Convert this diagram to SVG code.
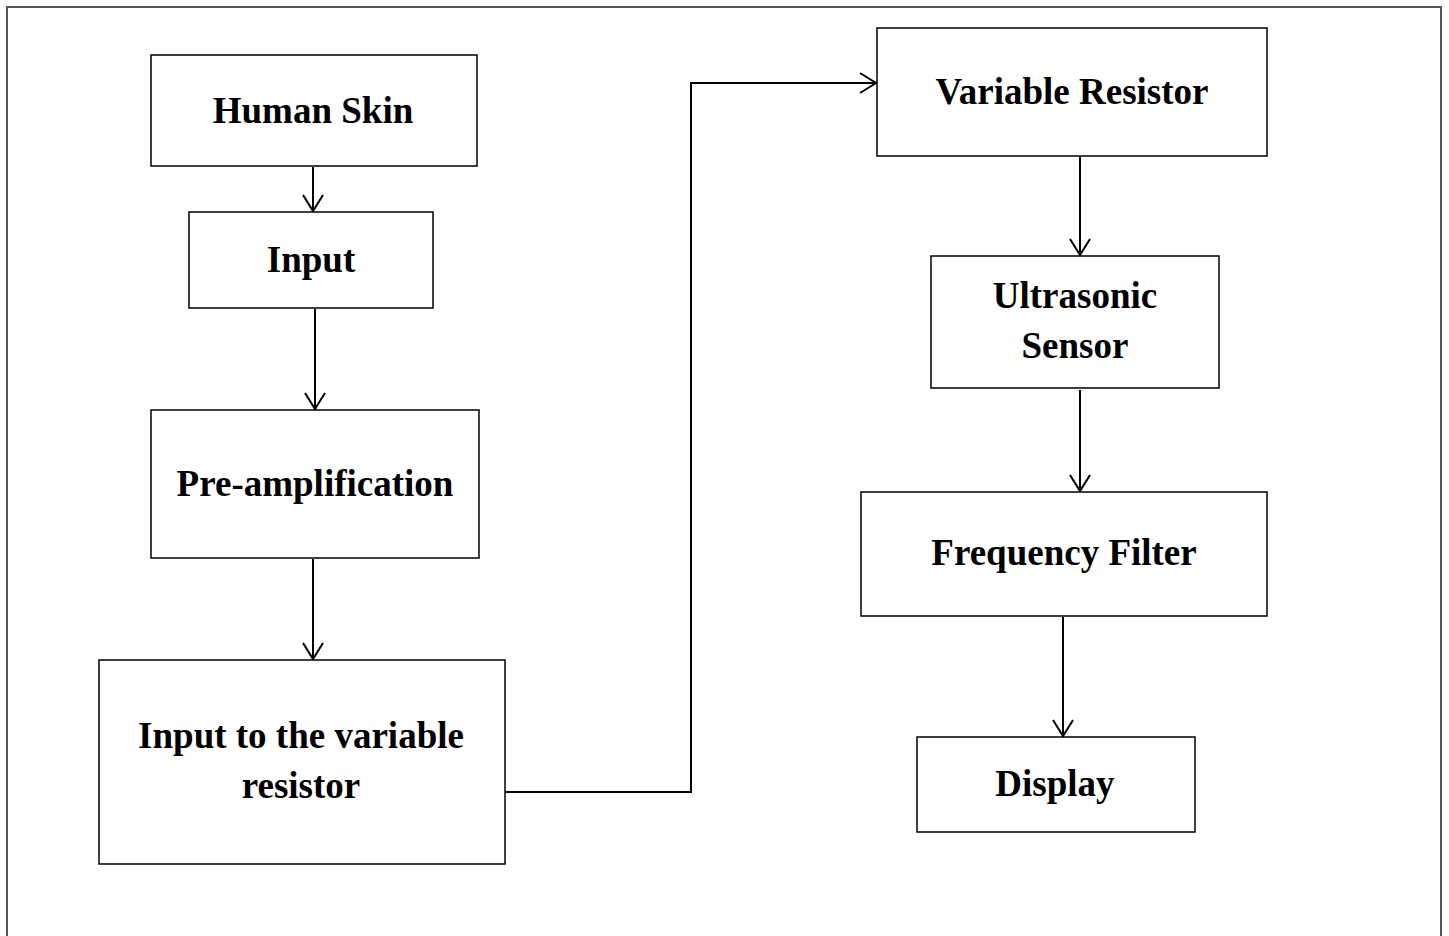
<svg xmlns="http://www.w3.org/2000/svg" width="1449" height="936" viewBox="0 0 1449 936">
<style>
.box{fill:#fff;stroke:#000;stroke-width:1.5}
.t{font-family:"Liberation Serif","Times New Roman",serif;font-weight:bold;font-size:37px;text-anchor:middle;fill:#000}
.c{fill:none;stroke:#000;stroke-width:2}
</style>
<defs>
<marker id="ah" markerWidth="22" markerHeight="22" refX="17" refY="11" orient="auto" markerUnits="userSpaceOnUse">
<path d="M1,1 L17,11 L1,21" fill="none" stroke="#000" stroke-width="2"/>
</marker>
</defs>
<rect width="1449" height="936" fill="#fff"/>
<rect x="7" y="7" width="1434" height="940" fill="none" stroke="#555" stroke-width="2"/>
<g id="n-human-skin"><rect class="box" x="151" y="55" width="326" height="111" stroke-width="2"/><text class="t" x="313" y="123">Human Skin</text></g>
<g id="n-input"><rect class="box" x="189" y="212" width="244" height="96"/><text class="t" x="311" y="272">Input</text></g>
<g id="n-preamp"><rect class="box" x="151" y="410" width="328" height="148"/><text class="t" x="315" y="496">Pre-amplification</text></g>
<g id="n-input-var"><rect class="box" x="99" y="660" width="406" height="204"/><text class="t" x="301" y="748">Input to the variable</text><text class="t" x="301" y="798">resistor</text></g>
<g id="n-var-res"><rect class="box" x="877" y="28" width="390" height="128"/><text class="t" x="1072" y="104">Variable Resistor</text></g>
<g id="n-ultra"><rect class="box" x="931" y="256" width="288" height="132"/><text class="t" x="1075" y="308">Ultrasonic</text><text class="t" x="1075" y="358">Sensor</text></g>
<g id="n-freq"><rect class="box" x="861" y="492" width="406" height="124"/><text class="t" x="1064" y="565">Frequency Filter</text></g>
<g id="n-display"><rect class="box" x="917" y="737" width="278" height="95"/><text class="t" x="1055" y="796">Display</text></g>
<g id="connectors">
<path class="c" d="M313,167 V211" marker-end="url(#ah)"/>
<path class="c" d="M315,309 V409" marker-end="url(#ah)"/>
<path class="c" d="M313,559 V659" marker-end="url(#ah)"/>
<path class="c" d="M505,792 H691 V83 H876" marker-end="url(#ah)"/>
<path class="c" d="M1080,157 V255" marker-end="url(#ah)"/>
<path class="c" d="M1080,390 V491" marker-end="url(#ah)"/>
<path class="c" d="M1063,617 V736" marker-end="url(#ah)"/>
</g>
</svg>
